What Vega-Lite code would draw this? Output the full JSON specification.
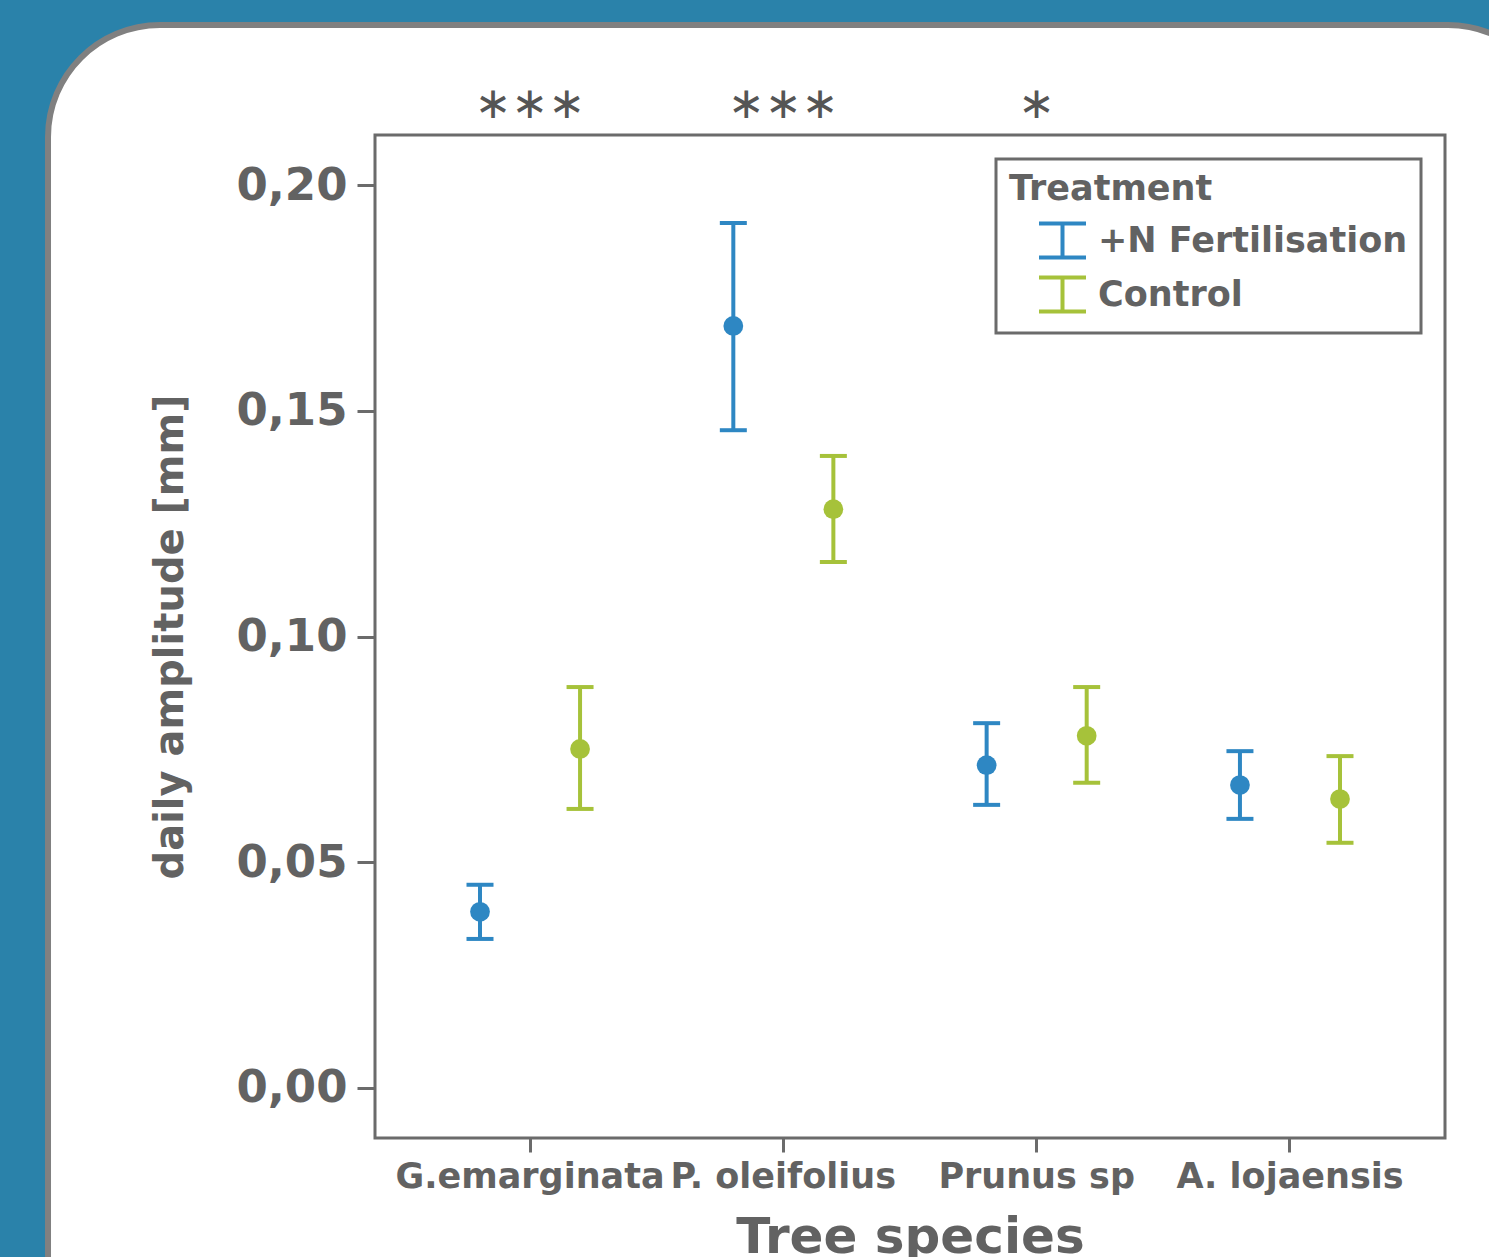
{
  "$schema": "https://vega.github.io/schema/vega-lite/v6.json",
  "width": 1070,
  "height": 1003,
  "autosize": {"type": "none"},
  "padding": {"left": 375, "top": 135, "right": 44, "bottom": 119},
  "background": "#2a82aa",
  "config": {
    "view": {"stroke": null},
    "font": "DejaVu Sans",
    "legend": {"strokeWidth": 3}
  },
  "layer": [
    {
      "data": {"values": [{}]},
      "mark": {"type": "rect", "fill": "white", "stroke": "#808080", "strokeWidth": 6, "cornerRadius": 112},
      "encoding": {
        "x": {"datum": -0.3056, "type": "quantitative", "scale": {"domain": [0, 1], "nice": false, "zero": false}, "axis": null},
        "x2": {"datum": 1.1075},
        "y": {"datum": 1.1097, "type": "quantitative", "scale": {"domain": [0, 1], "nice": false, "zero": false}, "axis": null},
        "y2": {"datum": -0.27}
      }
    },
    {
      "data": {"values": [{}]},
      "mark": {"type": "rect", "fill": "transparent", "stroke": "#6b6b6b", "strokeWidth": 3},
      "encoding": {
        "x": {"datum": 0, "type": "quantitative", "scale": {"domain": [0, 1], "nice": false, "zero": false}, "axis": null},
        "x2": {"datum": 1},
        "y": {"datum": 0, "type": "quantitative", "scale": {"domain": [0, 1], "nice": false, "zero": false}, "axis": null},
        "y2": {"datum": 1}
      }
    },
    {
      "data": {
        "values": [
          {"species": "G.emarginata", "treatment": "+N Fertilisation", "mean": 0.0390, "lo": 0.0330, "hi": 0.0450},
          {"species": "G.emarginata", "treatment": "Control", "mean": 0.0751, "lo": 0.0618, "hi": 0.0888},
          {"species": "P. oleifolius", "treatment": "+N Fertilisation", "mean": 0.1688, "lo": 0.1457, "hi": 0.1916},
          {"species": "P. oleifolius", "treatment": "Control", "mean": 0.1282, "lo": 0.1165, "hi": 0.1400},
          {"species": "Prunus sp", "treatment": "+N Fertilisation", "mean": 0.0715, "lo": 0.0627, "hi": 0.0808},
          {"species": "Prunus sp", "treatment": "Control", "mean": 0.0780, "lo": 0.0676, "hi": 0.0888},
          {"species": "A. lojaensis", "treatment": "+N Fertilisation", "mean": 0.0671, "lo": 0.0596, "hi": 0.0746},
          {"species": "A. lojaensis", "treatment": "Control", "mean": 0.0640, "lo": 0.0543, "hi": 0.0735}
        ]
      },
      "encoding": {
        "x": {
          "field": "species", "type": "nominal", "sort": null,
          "scale": {"type": "band", "paddingInner": 0, "paddingOuter": 0.112},
          "axis": {
            "orient": "bottom", "title": "Tree species", "domain": false, "labelAngle": 0, "zindex": 2,
            "labelFont": "DejaVu Sans", "labelFontWeight": "bold", "labelFontSize": 35, "labelColor": "#626262",
            "labelPadding": 7, "labelOverlap": false, "labelBound": false, "labelLimit": 0,
            "tickColor": "#6b6b6b", "tickWidth": 3, "tickSize": 14,
            "titleFont": "DejaVu Sans", "titleFontWeight": "bold", "titleFontSize": 50, "titleColor": "#626262", "titlePadding": 18
          }
        },
        "xOffset": {
          "field": "treatment", "type": "nominal", "sort": ["+N Fertilisation", "Control"],
          "scale": {"type": "band", "paddingInner": 0, "paddingOuter": 0.266}
        },
        "color": {
          "field": "treatment", "type": "nominal",
          "scale": {"domain": ["+N Fertilisation", "Control"], "range": ["#2e87c3", "#a6c23a"]},
          "legend": {
            "title": "Treatment", "orient": "top-right", "offset": 24, "zindex": 3,
            "fillColor": "white", "strokeColor": "#6b6b6b", "padding": 13,
            "titleFont": "DejaVu Sans", "titleFontWeight": "bold", "titleFontSize": 35, "titleColor": "#626262", "titlePadding": 8, "titleLimit": 0,
            "labelFont": "DejaVu Sans", "labelFontWeight": "bold", "labelFontSize": 35, "labelColor": "#626262", "labelOffset": 10, "labelLimit": 0,
            "symbolType": "M-1,-0.72H1M0,-0.72V0.72M-1,0.72H1", "symbolSize": 2209, "symbolStrokeWidth": 4, "symbolFillColor": "transparent", "symbolOpacity": 1,
            "rowPadding": 3, "symbolOffset": 28
          }
        }
      },
      "layer": [
        {
          "mark": {"type": "rule", "strokeWidth": 4, "opacity": 1},
          "encoding": {
            "y": {
              "field": "lo", "type": "quantitative",
              "scale": {"domain": [-0.0111, 0.2111], "nice": false, "zero": false},
              "axis": {
                "orient": "left", "title": "daily amplitude [mm]", "domain": false, "grid": false, "zindex": 2,
                "values": [0, 0.05, 0.1, 0.15, 0.2],
                "labelExpr": "replace(format(datum.value, '.2f'), '.', ',')",
                "labelFont": "DejaVu Sans", "labelFontWeight": "bold", "labelFontSize": 45, "labelColor": "#626262",
                "labelPadding": 10, "tickColor": "#6b6b6b", "tickWidth": 3, "tickSize": 18,
                "titleFont": "DejaVu Sans", "titleFontWeight": "bold", "titleFontSize": 40, "titleColor": "#626262", "titlePadding": 45
              }
            },
            "y2": {"field": "hi"}
          }
        },
        {
          "mark": {"type": "tick", "orient": "horizontal", "size": 27, "thickness": 4, "opacity": 1},
          "encoding": {"y": {"field": "lo", "type": "quantitative"}}
        },
        {
          "mark": {"type": "tick", "orient": "horizontal", "size": 27, "thickness": 4, "opacity": 1},
          "encoding": {"y": {"field": "hi", "type": "quantitative"}}
        },
        {
          "mark": {"type": "point", "filled": true, "shape": "circle", "size": 390, "opacity": 1},
          "encoding": {"y": {"field": "mean", "type": "quantitative"}}
        },
        {
          "data": {
            "values": [
              {"species": "G.emarginata", "stars": "∗∗∗"},
              {"species": "P. oleifolius", "stars": "∗∗∗"},
              {"species": "Prunus sp", "stars": "∗"}
            ]
          },
          "mark": {"type": "text", "font": "DejaVu Sans", "fontSize": 44, "color": "#555555", "baseline": "middle", "align": "center"},
          "encoding": {
            "x": {"field": "species", "type": "nominal", "sort": null},
            "y": {"datum": 0.2177, "type": "quantitative"},
            "text": {"field": "stars"},
            "xOffset": null,
            "color": null
          }
        }
      ]
    }
  ],
  "resolve": {"scale": {"x": "independent", "y": "independent"}}
}
